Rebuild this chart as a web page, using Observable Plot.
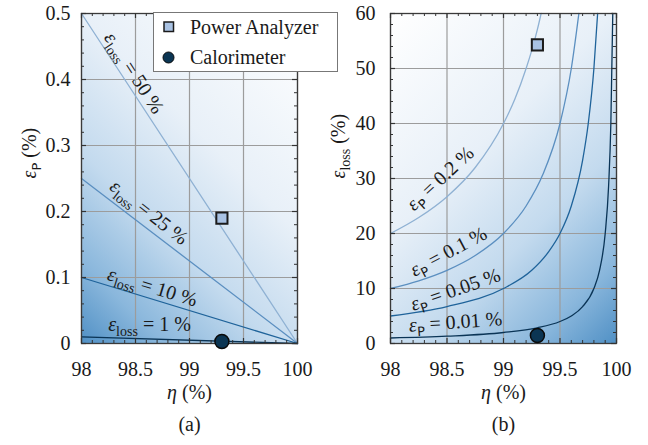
<!DOCTYPE html>
<html><head><meta charset="utf-8">
<script src="https://cdn.jsdelivr.net/npm/d3@7"></script>
<script src="https://cdn.jsdelivr.net/npm/@observablehq/plot@0.6"></script>
<style>
body{margin:0;background:#fff;}
#wrap{position:relative;width:648px;height:445px;overflow:hidden;font-family:"Liberation Serif",serif;}
.pane{position:absolute;top:0;}
#legend{position:absolute;left:0;top:0;z-index:3;pointer-events:none;}
</style></head><body>
<div id="wrap"><div class="pane" id="pa" style="left:0"></div><div class="pane" id="pb" style="left:324px"></div></div>
<script>
// ---------- data ----------
const etaTicks = [98, 98.5, 99, 99.5, 100];
const etaMinor = [98.1,98.2,98.3,98.4,98.6,98.7,98.8,98.9,99.1,99.2,99.3,99.4,99.6,99.7,99.8,99.9];
const epsPTicks = [0, 0.1, 0.2, 0.3, 0.4, 0.5];
const epsPMinor = [0.02,0.04,0.06,0.08,0.12,0.14,0.16,0.18,0.22,0.24,0.26,0.28,0.32,0.34,0.36,0.38,0.42,0.44,0.46,0.48];
const lossTicks = [0, 10, 20, 30, 40, 50, 60];
const lossMinor = [2,4,6,8,12,14,16,18,22,24,26,28,32,34,36,38,42,44,46,48,52,54,56,58];

// panel (a): constant-loss-error lines (eta vs eps_P)
const lineEta = [98, 100];
const loss50 = [0.5, 0];
const loss25 = [0.25, 0];
const loss10 = [0.1, 0];
const loss1 = [0.01, 0];
const lossLabels = ["ε_{loss} = 50 %", "ε_{loss} = 25 %", "ε_{loss} = 10 %", "ε_{loss} = 1 %"];
const lossLabelEta = [98.486, 98.625, 98.657, 98.63];
const lossLabelEps = [0.41, 0.199, 0.0856, 0.028];
const lossLabelAngle = [57, 38, 17, 0];

// panel (b): constant-power-error curves (eta vs eps_loss)
const p02Eta = [98, 98.25, 98.5, 98.75, 99, 99.1, 99.2, 99.25, 99.3, 99.333];
const p02Loss = [20, 22.9, 26.7, 32, 40, 44.4, 50, 53.3, 57.1, 60];
const p01Eta = [98, 98.25, 98.5, 98.75, 99, 99.2, 99.35, 99.5, 99.6, 99.667];
const p01Loss = [10, 11.4, 13.3, 16, 20, 25, 30.8, 40, 50, 60];
const p005Eta = [98, 98.5, 99, 99.25, 99.4, 99.5, 99.6, 99.7, 99.75, 99.8, 99.833];
const p005Loss = [5, 6.7, 10, 13.3, 16.7, 20, 25, 33.3, 40, 50, 60];
const p001Eta = [98, 98.5, 99, 99.3, 99.5, 99.6, 99.7, 99.8, 99.85, 99.9, 99.93, 99.95, 99.967];
const p001Loss = [1, 1.33, 2, 2.86, 4, 5, 6.7, 10, 13.3, 20, 28.6, 40, 60];
const pLabels = ["ε_{P} = 0.2 %", "ε_{P} = 0.1 %", "ε_{P} = 0.05 %", "ε_{P} = 0.01 %"];
const pLabelEta = [98.44, 98.513, 98.575, 98.575];
const pLabelLoss = [30, 16.7, 9.8, 3.9];
const pLabelAngle = [-43, -28, -19, -4];

// measurements
const instruments = ["Power Analyzer", "Calorimeter"];
const measEta = [99.3, 99.3];
const measEpsP = [0.19, 0.003];
const measLoss = [54.3, 1.45];

// ---------- styles ----------
const lineColors = ["#8fb1d3", "#5b8fc0", "#1f639a", "#0a3456"];
const W = 324, H = 445, mT = 13, mB = 102;
const innerH = H - mT - mB;
const font = "Liberation Serif";

function series(xs, ys) { return xs.map((x, i) => ({x, y: ys[i]})); }
function labelRows(t, xs, ys, a) { return t.map((s, i) => ({s, x: xs[i], y: ys[i], a: a[i]})); }
const measRows = instruments.map((n, i) => ({n, x: measEta[i], p: measEpsP[i], l: measLoss[i]}));

function makePanel({yDomain, yTicks, yMinor, mL, mR, tickPadY, curves, labels, yKey, yLabel, caption, curve}) {
  const innerW = W - mL - mR;
  const marks = [
    Plot.frame({fill: "#fff"}),
    Plot.ruleX(etaTicks, {stroke: "#9c9c9c", strokeWidth: 1.2}),
    Plot.ruleY(yTicks, {stroke: "#9c9c9c", strokeWidth: 1.2}),
    ...curves.map((c, i) => Plot.line(c, {x: "x", y: "y", stroke: lineColors[i], strokeWidth: 1.3, curve})),
    Plot.text(labels, {x: "x", y: "y", text: "s", rotate: "a", fill: "#1a1a1a", fontFamily: font, fontSize: 20}),
    Plot.frame({stroke: "#3a3a3a", strokeWidth: 1.3}),
    Plot.ruleX(etaMinor, {insetTop: innerH - 3, stroke: "#333"}),
    Plot.ruleX(etaMinor, {insetBottom: innerH - 3, stroke: "#333"}),
    Plot.ruleX(etaTicks, {insetTop: innerH - 5, stroke: "#333", strokeWidth: 1.2}),
    Plot.ruleX(etaTicks, {insetBottom: innerH - 5, stroke: "#333", strokeWidth: 1.2}),
    Plot.ruleY(yMinor, {insetRight: innerW - 3, stroke: "#333"}),
    Plot.ruleY(yMinor, {insetLeft: innerW - 3, stroke: "#333"}),
    Plot.ruleY(yTicks, {insetRight: innerW - 5, stroke: "#333", strokeWidth: 1.2}),
    Plot.ruleY(yTicks, {insetLeft: innerW - 5, stroke: "#333", strokeWidth: 1.2}),
    Plot.dot(measRows.slice(0, 1), {x: "x", y: yKey, symbol: "square", r: 6.3, fill: "#a9c2e3", stroke: "#1b1b1b", strokeWidth: 2}),
    Plot.dot(measRows.slice(1), {x: "x", y: yKey, symbol: "circle", r: 7, fill: "#0b3553", stroke: "#0a0a0a", strokeWidth: 1.5}),
    Plot.text([yLabel], {frameAnchor: "left", dx: -52, rotate: -90, text: d => d, fontFamily: font, fontSize: 20}),
    Plot.text(["η (%)"], {frameAnchor: "bottom", dy: 55, text: d => d, fontFamily: font, fontSize: 20}),
    Plot.text([caption], {frameAnchor: "bottom", dy: 87, text: d => d, fontFamily: font, fontSize: 20})
  ];
  return Plot.plot({
    width: W, height: H, marginTop: mT, marginBottom: mB, marginLeft: mL, marginRight: mR,
    style: {fontFamily: font, fontSize: "20px", background: "transparent", overflow: "visible", color: "#1a1a1a"},
    x: {domain: [98, 100], ticks: etaTicks, tickFormat: d => String(d), tickSize: 0, tickPadding: 18, label: null},
    y: {domain: yDomain, ticks: yTicks, tickFormat: d => String(d), tickSize: 0, tickPadding: tickPadY, label: null},
    marks
  });
}

function richify(root) {
  d3.select(root).selectAll("text").each(function() {
    const s = this.textContent;
    if (!/[_εη]/.test(s)) return;
    const el = d3.select(this);
    el.text(null);
    const parts = s.split(/(_\{[^}]*\}|ε|η)/).filter(p => p !== "");
    let shifted = false;
    for (const p of parts) {
      const t = el.append("tspan");
      if (p.startsWith("_{")) {
        const sub = p.slice(2, -1);
        t.text(sub).attr("dy", 5).attr("class", sub === "P" ? "subP" : "sub");
        shifted = true;
      } else {
        if (shifted) { t.attr("dy", -5); shifted = false; }
        if (p === "ε" || p === "η") t.attr("class", "ital");
        t.text(p);
      }
    }
  });
}

function imp(sel, prop, val) { sel.each(function() { this.style.setProperty(prop, val, "important"); }); }
function fixFonts(root) {
  const s = d3.select(root);
  imp(s, "font-family", `"${font}", serif`);
  imp(s.selectAll("text"), "font-family", `"${font}", serif`);
  imp(s.selectAll("text"), "font-size", "20px");
  imp(s.selectAll("tspan.sub"), "font-family", `"${font}", serif`);
  imp(s.selectAll("tspan.sub"), "font-size", "14px");
  imp(s.selectAll("tspan.subP"), "font-family", `"DejaVu Sans", sans-serif`);
  imp(s.selectAll("tspan.subP"), "font-size", "13px");
  imp(s.selectAll("tspan.ital"), "font-style", "italic");
}

function applyGradient(svg, id, fromRight, stops) {
  let rect = svg.querySelector('[aria-label="frame"]');
  if (rect && rect.tagName.toLowerCase() !== "rect") rect = rect.querySelector("rect");
  if (!rect) rect = svg.querySelector("rect");
  const x = +rect.getAttribute("x"), y = +rect.getAttribute("y");
  const w = +rect.getAttribute("width"), h = +rect.getAttribute("height");
  const L = (w + h) / 2;
  const g = d3.select(svg).insert("defs", ":first-child").append("linearGradient")
    .attr("id", id).attr("gradientUnits", "userSpaceOnUse");
  if (fromRight) g.attr("x1", x + w).attr("y1", y + h).attr("x2", x + w - L).attr("y2", y + h - L);
  else g.attr("x1", x).attr("y1", y + h).attr("x2", x + L).attr("y2", y + h - L);
  for (const [o, c] of stops) g.append("stop").attr("offset", o).attr("stop-color", c);
  rect.setAttribute("fill", `url(#${id})`);
}
const gradStops = [[0, "#5090c5"], [0.15, "#8ab7dc"], [0.35, "#c3daee"], [0.6, "#e8f0f8"], [1, "#ffffff"]];

const A = makePanel({
  yDomain: [0, 0.5], yTicks: epsPTicks, yMinor: epsPMinor, mL: 81, mR: 27, tickPadY: 11,
  curves: [series(lineEta, loss50), series(lineEta, loss25), series(lineEta, loss10), series(lineEta, loss1)],
  labels: labelRows(lossLabels, lossLabelEta, lossLabelEps, lossLabelAngle),
  yKey: "p", yLabel: "ε_{P} (%)", caption: "(a)", curve: "linear"
});
const B = makePanel({
  yDomain: [0, 60], yTicks: lossTicks, yMinor: lossMinor, mL: 66, mR: 32, tickPadY: 15,
  curves: [series(p02Eta, p02Loss), series(p01Eta, p01Loss), series(p005Eta, p005Loss), series(p001Eta, p001Loss)],
  labels: labelRows(pLabels, pLabelEta, pLabelLoss, pLabelAngle),
  yKey: "l", yLabel: "ε_{loss} (%)", caption: "(b)", curve: "monotone-x"
});
document.getElementById("pa").appendChild(A);
document.getElementById("pb").appendChild(B);
richify(A); richify(B);
fixFonts(A); fixFonts(B);
applyGradient(A, "gA", false, gradStops);
applyGradient(B, "gB", true, gradStops);

// legend
const lg = d3.select("#wrap").append("svg").attr("id", "legend").attr("width", 648).attr("height", 80)
  .style("font-family", font).style("font-size", "20px");
lg.append("rect").attr("x", 153.5).attr("y", 12.5).attr("width", 184).attr("height", 59)
  .attr("fill", "#fff").attr("stroke", "#777").attr("stroke-width", 1);
lg.append("rect").attr("x", 164).attr("y", 22).attr("width", 9.5).attr("height", 9.5)
  .attr("fill", "#a9c2e3").attr("stroke", "#1b1b1b").attr("stroke-width", 1.5);
lg.append("circle").attr("cx", 168.5).attr("cy", 57.5).attr("r", 5.5)
  .attr("fill", "#0b3553").attr("stroke", "#0a0a0a").attr("stroke-width", 1);
lg.append("text").attr("x", 190).attr("y", 33.5).attr("fill", "#1a1a1a").text(instruments[0]);
lg.append("text").attr("x", 190).attr("y", 63.5).attr("fill", "#1a1a1a").text(instruments[1]);
</script></body></html>
